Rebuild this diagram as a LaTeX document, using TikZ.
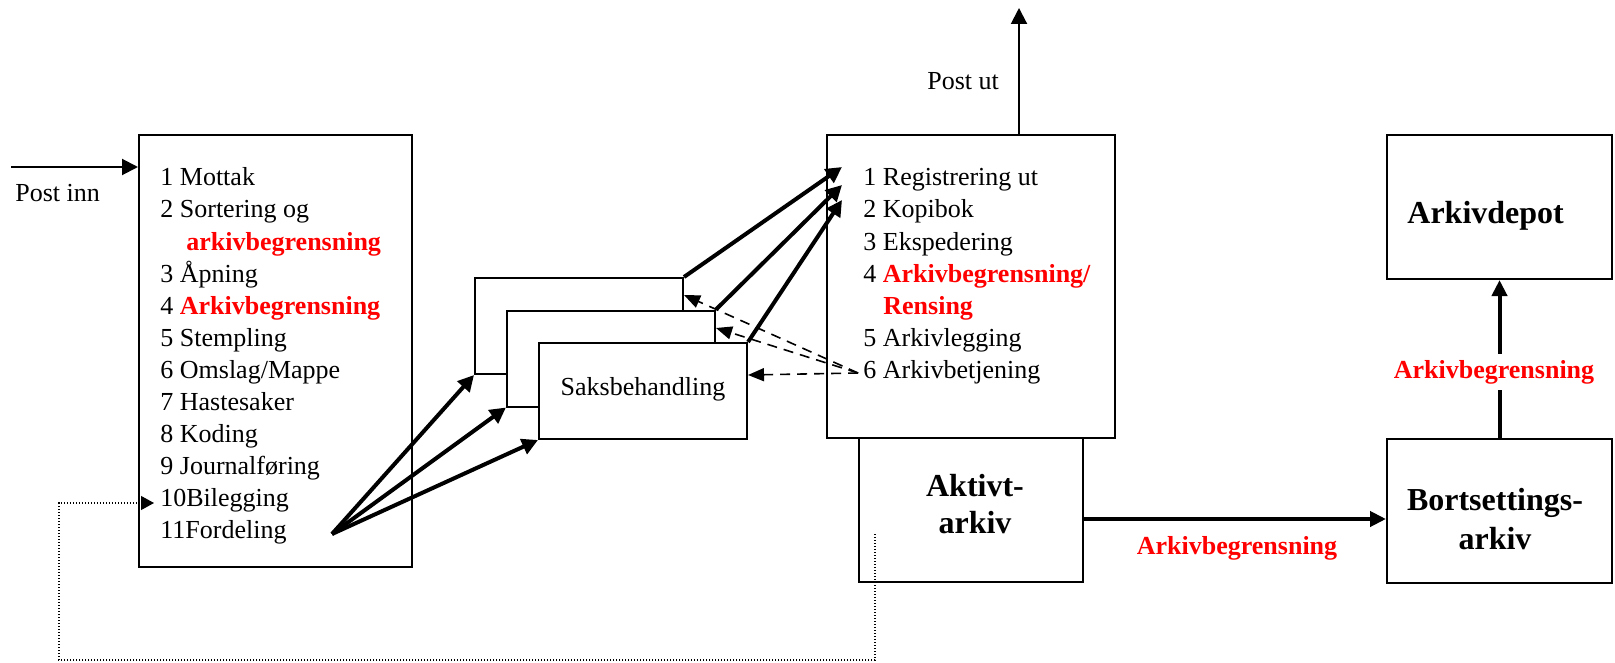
\documentclass[tikz,border=0pt]{standalone}
\usepackage{fontspec}
\setmainfont{Liberation Serif}
\usetikzlibrary{arrows.meta}
\newcommand\redbf[1]{\textcolor{red}{\textbf{#1}}}
\begin{document}
\begin{tikzpicture}[x=0.5pt,y=-0.5pt,
  box/.style={draw, line width=1pt, inner sep=0pt, fill=white},
  txt/.style={anchor=base west, inner sep=0pt, font=\fontsize{13pt}{16pt}\selectfont},
  bigtxt/.style={anchor=base, inner sep=0pt, font=\fontsize{16pt}{18.5pt}\selectfont\bfseries},
  redlab/.style={anchor=base, inner sep=0pt, text=red, font=\fontsize{13pt}{16pt}\selectfont\bfseries},
  thickarrow/.style={line width=2pt, -{Triangle[length=8pt,width=8pt]}},
  bigarrow/.style={line width=2pt, -{Triangle[length=8pt,width=7.5pt]}},
  thinarrow/.style={line width=1pt, -{Triangle[length=8pt,width=8pt]}},
  dasharrow/.style={line width=0.8pt, dash pattern=on 5pt off 3.5pt, -{Triangle[length=8pt,width=6.5pt]}},
  dotline/.style={line width=0.6pt, dash pattern=on 0.6pt off 0.9pt, -{Triangle[length=6.5pt,width=7pt]}},
]
\useasboundingbox (0,0) rectangle (1615,663);

% boxes
\node[box, minimum width=136.5pt, minimum height=216pt] (inbox) at (275.5,351) {};
\node[box, minimum width=112pt, minimum height=72pt] (aktiv) at (971,510) {};
\node[box, minimum width=144pt, minimum height=151.5pt] (outbox) at (971,286.5) {};
\node[box, minimum width=112.5pt, minimum height=72pt] (depot) at (1499.5,207) {};
\node[box, minimum width=112.5pt, minimum height=72pt] (bort) at (1499.5,511) {};
\node[box, minimum width=104pt, minimum height=48pt] (sak1) at (579,326) {};
\node[box, minimum width=104pt, minimum height=48pt] (sak2) at (611,358.5) {};
\node[box, minimum width=104pt, minimum height=48pt] (sak3) at (643,391) {};
\node[txt, anchor=base] (saktxt) at (643,395) {Saksbehandling};

% left box text
\node[txt] (l1) at (160,186) {1 Mottak};
\node[txt] (l2) at (160,218) {2 Sortering og};
\node[txt] (l3) at (186,250) {\redbf{arkivbegrensning}};
\node[txt] (l4) at (160,282) {3 Åpning};
\node[txt] (l5) at (160,314) {4 \redbf{Arkivbegrensning}};
\node[txt] (l6) at (160,346) {5 Stempling};
\node[txt] (l7) at (160,378) {6 Omslag/Mappe};
\node[txt] (l8) at (160,410) {7 Hastesaker};
\node[txt] (l9) at (160,442) {8 Koding};
\node[txt] (l10) at (160,474) {9 Journalføring};
\node[txt] (l11) at (160,506) {10Bilegging};
\node[txt] (l12) at (160,538) {11Fordeling};

% right box text
\node[txt] (r1) at (863,186) {1 Registrering ut};
\node[txt] (r2) at (863,218) {2 Kopibok};
\node[txt] (r3) at (863,250) {3 Ekspedering};
\node[txt] (r4) at (863,282) {4 \redbf{Arkivbegrensning/}};
\node[txt] (r5) at (883,314) {\redbf{Rensing}};
\node[txt] (r6) at (863,346) {5 Arkivlegging};
\node[txt] (r7) at (863,378) {6 Arkivbetjening};

% other labels
\node[txt] (postinn) at (15,202) {Post inn};
\node[txt] (postut) at (927,90) {Post ut};
\node[bigtxt] (ak1) at (975,496) {Aktivt-};
\node[bigtxt] (ak2) at (975,533) {arkiv};
\node[bigtxt, anchor=base west] (deptxt) at (1407,224) {Arkivdepot};
\node[bigtxt] (bo1) at (1495,510) {Bortsettings-};
\node[bigtxt] (bo2) at (1495,549) {arkiv};
\node[redlab] (lab1) at (1237,554) {Arkivbegrensning};

% connectors
\coordinate (pin) at (11,167);
\draw[thinarrow] (pin) -- (pin -| inbox.west);
\coordinate (pout) at (1019,8);
\draw[thinarrow] (pout |- outbox.north) -- (pout);

\coordinate (fo) at (332,534);
\draw[thickarrow] (fo) -- (sak1.south west);
\draw[thickarrow] (fo) -- (sak2.south west);
\draw[thickarrow] (fo) -- (sak3.south west);

\coordinate (t1) at (842,167);
\coordinate (t2) at (842,185);
\coordinate (t3) at (842,200);
\draw[thickarrow] (sak1.north east) -- (t1);
\draw[thickarrow] (sak2.north east) -- (t2);
\draw[thickarrow] (sak3.north east) -- (t3);

\coordinate (src) at (858,373);
\coordinate (d1) at (748,375);
\coordinate (d2) at (716,328);
\coordinate (d3) at (684,295);
\draw[dasharrow] (src) -- (d1);
\draw[dasharrow] (src) -- (d2);
\draw[dasharrow] (src) -- (d3);

\coordinate (dot0) at (875,534);
\coordinate (dotend) at (154,503);
\draw[dotline] (dot0) |- (59,660) |- (dotend);

\coordinate (ab) at (1084,519);
\draw[bigarrow] (ab) -- (ab -| bort.west);
\draw[bigarrow] (bort.north) -- (depot.south);
\node[redlab, fill=white, inner ysep=3pt] (lab2) at (1494,378) {Arkivbegrensning};
\end{tikzpicture}
\end{document}
